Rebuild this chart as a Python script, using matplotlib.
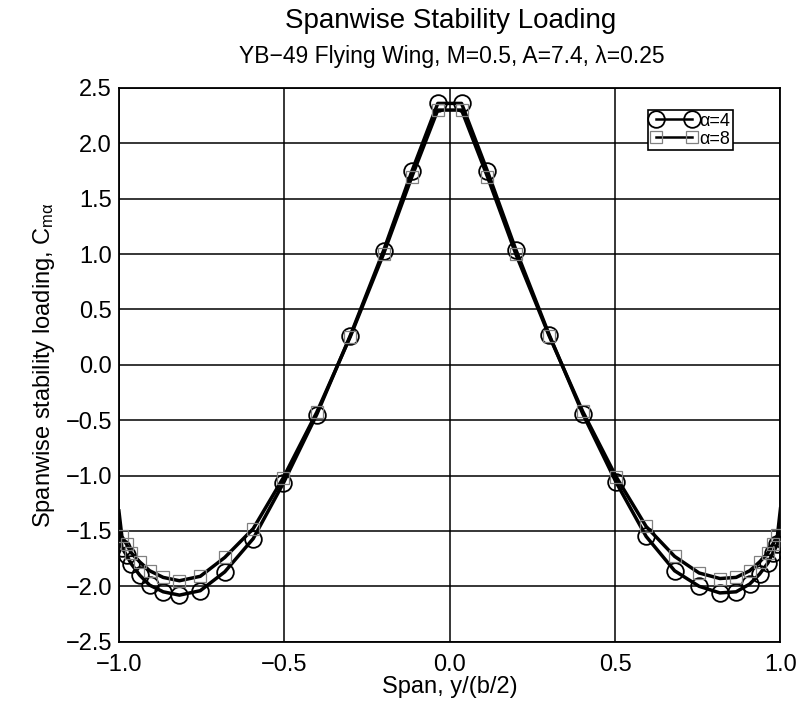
import numpy as np
import matplotlib.pyplot as plt

plt.rcParams['font.family'] = ['Liberation Sans', 'DejaVu Sans']
plt.rcParams['mathtext.fontset'] = 'custom'
plt.rcParams['mathtext.rm'] = 'Liberation Sans'
plt.rcParams['mathtext.it'] = 'Liberation Sans:italic'

# spanwise stations, y/(b/2)
span = [-0.991, -0.977, -0.962, -0.937, -0.907, -0.866, -0.817, -0.754, -0.680,
        -0.594, -0.503, -0.402, -0.301, -0.200, -0.114, -0.036,
        0.036, 0.114, 0.200, 0.301, 0.402, 0.503, 0.594, 0.680,
        0.754, 0.817, 0.866, 0.907, 0.937, 0.962, 0.977, 0.991]

# alpha = 4 deg
cma_4 = [-1.65, -1.72, -1.80, -1.90, -1.99, -2.05, -2.08, -2.04, -1.87,
         -1.57, -1.07, -0.45, 0.26, 1.03, 1.75, 2.36,
         2.36, 1.75, 1.04, 0.27, -0.44, -1.06, -1.55, -1.86,
         -2.00, -2.06, -2.05, -1.98, -1.89, -1.79, -1.70, -1.62]

# alpha = 8 deg
cma_8 = [-1.55, -1.62, -1.70, -1.78, -1.86, -1.92, -1.95, -1.91, -1.74,
         -1.48, -1.02, -0.43, 0.25, 1.00, 1.70, 2.30,
         2.30, 1.70, 1.00, 0.26, -0.42, -1.01, -1.46, -1.73,
         -1.88, -1.93, -1.92, -1.86, -1.78, -1.70, -1.62, -1.54]

# curve end values at the wing tips
tip_span = [-1.0, 1.0]
tip_4 = [-1.40, -1.38]
tip_8 = [-1.32, -1.30]

fig = plt.figure(figsize=(7.98, 7.09), dpi=100)
ax = fig.add_axes([0.149, 0.095, 0.829, 0.781])

line_x = [tip_span[0]] + span + [tip_span[1]]
ax.plot(line_x, [tip_4[0]] + cma_4 + [tip_4[1]], color='black', lw=2.5, zorder=3)
ax.plot(line_x, [tip_8[0]] + cma_8 + [tip_8[1]], color='black', lw=2.5, zorder=3)

ax.plot(span, cma_4, ls='none', marker='o', ms=12, mfc='none', mec='black', mew=1.3, zorder=4)
ax.plot(span, cma_8, ls='none', marker='s', ms=9, mfc='none', mec='#808080', mew=0.9, zorder=4)

# legend handles
h4, = ax.plot([], [], color='black', lw=1.8, marker='o', ms=12, mfc='none', mec='black', mew=1.3)
h8, = ax.plot([], [], color='black', lw=1.8, marker='s', ms=9, mfc='none', mec='#808080', mew=0.9)
leg = ax.legend([h4, h8], ['α=4', 'α=8'], loc='upper left', bbox_to_anchor=(0.80, 0.96),
                numpoints=2, handlelength=2.6, fontsize=13, frameon=True, fancybox=False,
                borderpad=0.15, labelspacing=0.05, handletextpad=0.1, borderaxespad=0)
leg.get_frame().set_edgecolor('black')
leg.get_frame().set_linewidth(1.2)
leg.get_frame().set_alpha(1)

ax.set_xlim(-1.0, 1.0)
ax.set_ylim(-2.5, 2.5)
ax.set_xticks([-1.0, -0.5, 0.0, 0.5, 1.0])
ax.set_yticks(np.arange(-2.5, 2.51, 0.5))
ax.set_xticklabels(['\u22121.0', '\u22120.5', '0.0', '0.5', '1.0'])
ax.set_yticklabels(['\u22122.5', '\u22122.0', '\u22121.5', '\u22121.0', '\u22120.5',
                    '0.0', '0.5', '1.0', '1.5', '2.0', '2.5'])
ax.tick_params(length=0, labelsize=17)
ax.tick_params(axis='x', pad=9)
ax.tick_params(axis='y', pad=5)
ax.grid(True, color='black', lw=1.1)
ax.set_axisbelow(True)
for s in ax.spines.values():
    s.set_linewidth(1.3)

ax.set_xlabel('Span, y/(b/2)', fontsize=17, labelpad=0)
ax.set_ylabel('Spanwise stability loading, C$_{\\rm m\\alpha}$', fontsize=17, labelpad=6)

fig.text(0.565, 0.970, 'Spanwise Stability Loading', ha='center', va='center', fontsize=20)
fig.text(0.566, 0.921, 'YB\u221249 Flying Wing, M=0.5, A=7.4, \u03bb=0.25', ha='center',
         va='center', fontsize=16.5)

fig.savefig('out.png', dpi=100)
